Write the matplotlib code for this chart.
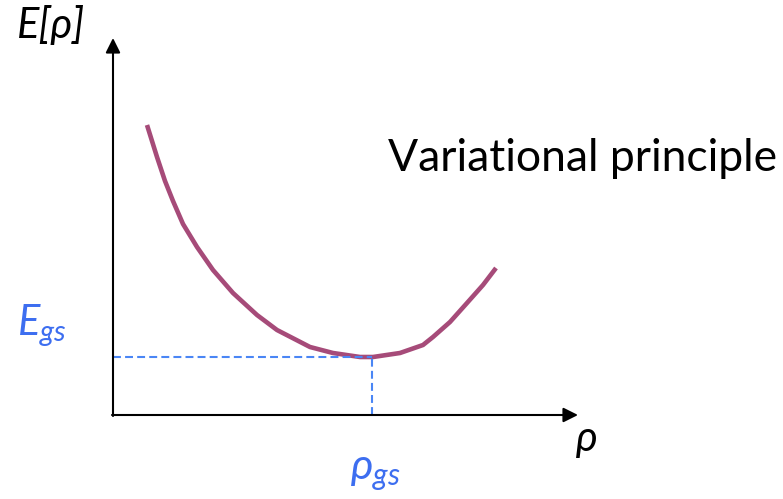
import matplotlib.pyplot as plt

plt.rcParams['mathtext.fontset'] = 'custom'
plt.rcParams['mathtext.it'] = 'Lato:italic'
plt.rcParams['mathtext.rm'] = 'Lato'

# energy functional E[rho] sketch, origin at the axes corner
rho = [34, 39, 44, 52, 60, 70, 84, 100, 120, 144, 164, 197, 220, 247, 260,
       287, 310, 320, 337, 354, 370, 383]
energy = [290, 274, 258, 234, 214, 191, 168, 145, 122, 100, 85, 68, 62, 58,
          58, 62, 70, 78, 93, 112, 130, 147]
rho_gs = 259
e_gs = 58

curve_color = '#A64B79'
blue = '#3D6EF0'
dash_blue = '#4A86F5'

fig = plt.figure(figsize=(7.83, 4.99), dpi=100)
ax = fig.add_axes([0, 0, 1, 1])
ax.set_xlim(-113, 670)
ax.set_ylim(-84, 415)
ax.axis('off')

# axes with arrow heads
arrow = dict(arrowstyle='-|>', mutation_scale=22, lw=1.5, color='black',
             shrinkA=0, shrinkB=0)
ax.annotate('', xy=(0, 377), xytext=(0, -1), arrowprops=arrow)
ax.annotate('', xy=(465, 0), xytext=(-1, 0), arrowprops=arrow)

ax.plot(rho, energy, color=curve_color, lw=3.3, solid_capstyle='butt',
        solid_joinstyle='round')

# ground state guides
ax.plot([0, rho_gs], [e_gs, e_gs], color=dash_blue, lw=1.5,
        ls=(0, (3.8, 2)))
ax.plot([rho_gs, rho_gs], [0, e_gs], color=dash_blue, lw=1.5,
        ls=(0, (3.8, 2)))

ax.text(-96, 377, 'E[ρ]', fontsize=30, style='italic',
        family=['Lato', 'DejaVu Sans'], va='baseline', ha='left')
ax.text(470, 244, 'Variational principle', fontsize=32, family='Lato',
        va='baseline', ha='center')
ax.text(473, -36, r'$\rho$', fontsize=30, va='baseline', ha='center')
ax.text(-96, 80, r'$E_{gs}$', fontsize=30, color=blue, va='baseline',
        ha='left')
ax.text(262, -64, r'$\rho_{gs}$', fontsize=31, color=blue, va='baseline',
        ha='center')

fig.savefig('out.png', dpi=100)
